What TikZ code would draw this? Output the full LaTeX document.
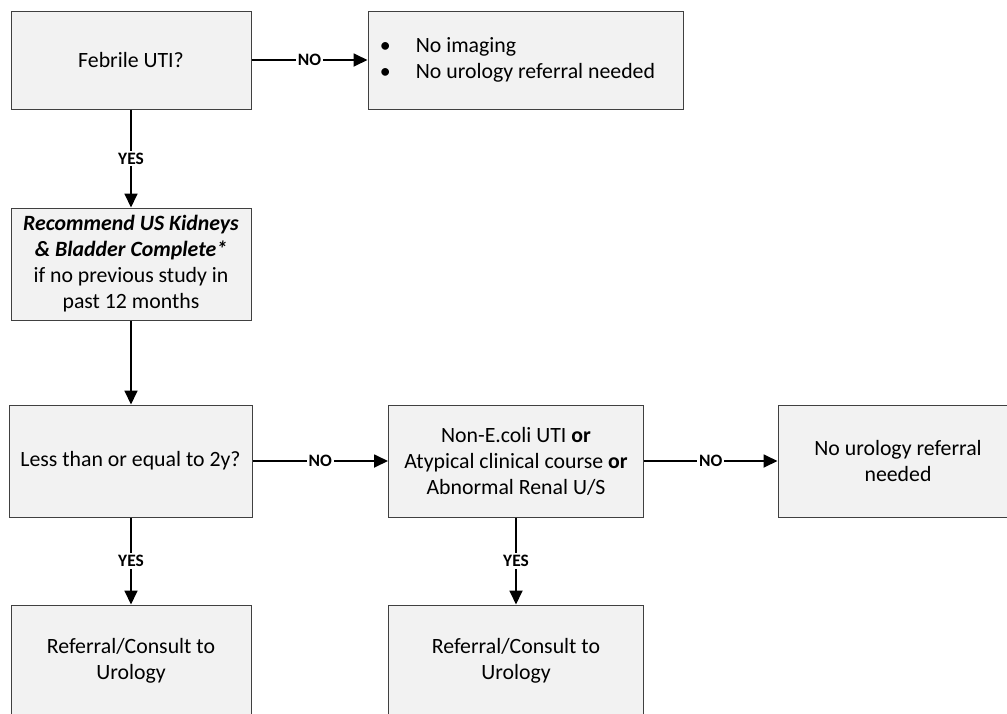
\documentclass[tikz,border=0pt]{standalone}
\usepackage{fontspec}
\setmainfont{Carlito}
\usepackage{xcolor}
\usetikzlibrary{arrows.meta,positioning}
\definecolor{boxfill}{HTML}{F2F2F2}
\definecolor{boxline}{HTML}{404040}

\begin{document}
\begin{tikzpicture}[
 x=0.5pt,y=-0.5pt,
 font=\fontsize{10.9}{13}\selectfont,
 b/.style={draw=boxline,fill=boxfill,line width=0.5pt,minimum width=120pt,minimum height=56pt,align=center,inner sep=2pt},
 arr/.style={-{Triangle[length=7pt,width=6.5pt]},line width=0.9pt,draw=black},
 lbl/.style={midway,fill=white,inner sep=1pt,font=\fontsize{8.7}{9}\selectfont\bfseries}
]
\useasboundingbox (0,0) rectangle (1007,713);
\clip (0,0) rectangle (1007,713);
\node[b,minimum height=49pt] (fev) at (131,60) {Febrile UTI?};
\node[b,minimum width=157.5pt,minimum height=49pt] (noimg) at (525.5,60)
 {\begin{tabular}{@{}l@{\hspace{12.5pt}}l@{\hspace{8pt}}}\textbullet & No imaging\\\textbullet & No urology referral needed\end{tabular}};
\node[b] (us) at (131,264) {\textbf{\textit{Recommend US Kidneys}}\\\textbf{\textit{\& Bladder Complete*}}\\if no previous study in\\past 12 months};
\node[b,minimum width=121.5pt] (le2) at (130.5,461) {Less than or equal to 2y?};
\node[b,minimum width=127.5pt] (atyp) at (516,461) {Non-E.coli UTI \textbf{or}\\Atypical clinical course \textbf{or}\\Abnormal Renal U/S};
\node[b] (nouro) at (898,461) {No urology referral\\needed};
\node[b] (refa) at (131,661) {Referral/Consult to\\Urology};
\node[b,minimum width=127.5pt] (refb) at (516,661) {Referral/Consult to\\Urology};
\draw[arr] (fev) -- node[lbl]{NO} (noimg);
\draw[arr] (fev) -- node[lbl]{YES} (us);
\draw[arr] (us.south) -- (us.south |- le2.north);
\draw[arr] (le2) -- node[lbl]{NO} (atyp);
\draw[arr] (atyp) -- node[lbl]{NO} (nouro);
\draw[arr] (le2.south -| refa) -- node[lbl]{YES} (refa);
\draw[arr] (atyp) -- node[lbl]{YES} (refb);
\end{tikzpicture}
\end{document}
